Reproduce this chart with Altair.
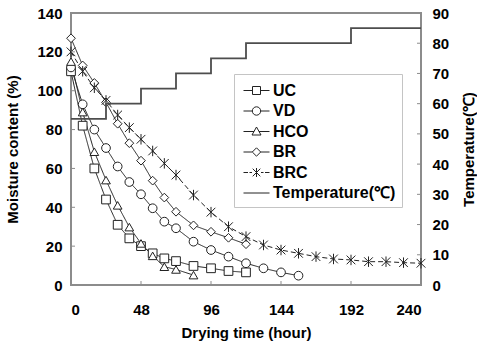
import altair as alt
import pandas as pd

# Moisture content (%) of each drying treatment versus drying time (hour)
uc_hours = [0, 8, 16, 24, 32, 40, 48, 56, 64, 72, 84, 96, 108, 120]
uc_moist = [110, 82, 60, 44, 31, 24, 20, 16.3, 13.7, 12.3, 9.8, 8.6, 7.2, 6.5]

vd_hours = [0, 8, 16, 24, 32, 40, 48, 56, 64, 72, 84, 96, 108, 120, 132, 144, 156]
vd_moist = [112, 93, 80, 70.5, 61, 53, 46.7, 39.5, 32.6, 29.2, 22.3, 18, 14.6, 11.2, 8.6, 6.5, 4.8]

hco_hours = [0, 8, 16, 24, 32, 40, 48, 56, 64, 72, 84]
hco_moist = [115, 89, 68.6, 54, 41, 29.8, 21.4, 15, 9.4, 8, 5.1]

br_hours = [0, 8, 16, 24, 32, 40, 48, 56, 64, 72, 84, 96, 108, 120]
br_moist = [127, 113, 104, 94, 83, 73, 64, 53.7, 45, 37.7, 30.7, 27.4, 24.3, 21]

brc_hours = [0, 8, 16, 24, 32, 40, 48, 56, 64, 72, 84, 96, 108, 120,
             132, 144, 156, 168, 180, 192, 204, 216, 228, 240]
brc_moist = [120, 110, 101.5, 95, 87.5, 81, 75, 69, 62.6, 56.6, 46.3, 37.5, 30, 24.9,
             20.6, 18, 16.3, 14.6, 13.4, 12.9, 12, 12, 11.5, 11.2]

# Drying air temperature schedule (step changes)
temp_hours = [0, 24, 48, 72, 96, 120, 192, 240]
temp_values = [55, 60, 65, 70, 75, 80, 85, 85]

series_names = ["UC", "VD", "HCO", "BR", "BRC"]
temp_label = "Temperature(℃)"

hour_ticks = [0, 48, 96, 144, 192, 240]
moist_ticks = [0, 20, 40, 60, 80, 100, 120, 140]
temp_ticks = [0, 10, 20, 30, 40, 50, 60, 70, 80, 90]

FONT = "Liberation Sans"

rows = []
for name, hrs, vals in zip(series_names,
                           [uc_hours, vd_hours, hco_hours, br_hours, brc_hours],
                           [uc_moist, vd_moist, hco_moist, br_moist, brc_moist]):
    rows += [{"series": name, "hour": h, "moisture": v} for h, v in zip(hrs, vals)]
moist_df = pd.DataFrame(rows)
temp_df = pd.DataFrame({"hour": temp_hours, "temp": temp_values})
legend_df = pd.DataFrame({"entry": series_names + [temp_label]})

x_enc = alt.X(
    "hour:Q",
    scale=alt.Scale(domain=[0, 240], nice=False),
    axis=alt.Axis(values=hour_ticks, title="Drying time (hour)", ticks=False,
                  domain=False, grid=False, labelPadding=17, titlePadding=8),
)
y_left = alt.Y(
    "moisture:Q",
    scale=alt.Scale(domain=[0, 140], nice=False),
    axis=alt.Axis(values=moist_ticks, title="Moisture content (%)", ticks=False,
                  domain=False, grid=False, labelPadding=9, titlePadding=16),
)
y_right = alt.Y(
    "temp:Q",
    scale=alt.Scale(domain=[0, 90], nice=False),
    axis=alt.Axis(values=temp_ticks, title=temp_label, orient="right", ticks=False,
                  domain=False, grid=False, labelPadding=11, titlePadding=13,
                  titleAngle=270, titleBaseline="top"),
)

point_shapes = ["square", "circle", "triangle-up", "diamond",
                "M-1,-1L1,1M-1,1L1,-1M0,-1.2V1.2"]

legend_shapes = [
    "M-1.3,0H-0.4M0.4,0H1.3M-0.4,-0.4H0.4V0.4H-0.4Z",
    "M-1.3,0H-0.42M0.42,0H1.3M-0.42,0A0.42,0.42,0,1,0,0.42,0A0.42,0.42,0,1,0,-0.42,0Z",
    "M-1.3,0H-0.25M0.25,0H1.3M0,-0.45L0.45,0.35H-0.45Z",
    "M-1.3,0H-0.42M0.42,0H1.3M0,-0.42L0.42,0L0,0.42L-0.42,0Z",
    "M-1.3,0H-0.85M-0.7,0H-0.45M0.45,0H0.7M0.85,0H1.3"
    "M-0.38,-0.38L0.38,0.38M-0.38,0.38L0.38,-0.38M0,-0.45V0.45",
    "M-1.3,0H1.3",
]

lines = alt.Chart(moist_df).mark_line(color="#222", strokeWidth=1).encode(
    x=x_enc, y=y_left,
    detail="series:N",
    strokeDash=alt.StrokeDash(
        "series:N",
        scale=alt.Scale(domain=series_names,
                        range=[[1, 0], [1, 0], [1, 0], [1, 0], [5, 3]]),
        legend=None),
)

points = alt.Chart(moist_df).mark_point(
    filled=True, fill="white", stroke="#222", strokeWidth=1, size=76, opacity=1
).encode(
    x=x_enc, y=y_left,
    shape=alt.Shape("series:N",
                    scale=alt.Scale(domain=series_names, range=point_shapes),
                    legend=None),
)

legend_layer = alt.Chart(legend_df).mark_point(opacity=0).encode(
    shape=alt.Shape(
        "entry:N",
        scale=alt.Scale(domain=series_names + [temp_label], range=legend_shapes),
        legend=alt.Legend(
            title=None, orient="none", legendX=163, legendY=61,
            symbolSize=400, symbolStrokeWidth=1, symbolStrokeColor="#222",
            symbolFillColor="white", symbolOpacity=1, symbolOffset=6,
            labelFont=FONT, labelFontSize=16, labelFontWeight="bold",
            labelColor="black", labelOffset=6, rowPadding=1.5,
            padding=6, fillColor="white", strokeColor="#c4c4c4",
        ),
    )
)

left_ticks = alt.Chart(pd.DataFrame({"moisture": moist_ticks})).mark_rule(
    color="#8c8c8c", strokeWidth=1
).encode(y=y_left, x=alt.value(0), x2=alt.value(4))

bottom_ticks = alt.Chart(pd.DataFrame({"hour": hour_ticks})).mark_rule(
    color="#8c8c8c", strokeWidth=1
).encode(x=x_enc, y=alt.value(272), y2=alt.value(268))

temp_line = alt.Chart(temp_df).mark_line(
    interpolate="step-after", color="#4d4d4d", strokeWidth=1.8
).encode(x=x_enc, y=y_right)

right_ticks = alt.Chart(pd.DataFrame({"temp": temp_ticks})).mark_rule(
    color="#8c8c8c", strokeWidth=1
).encode(y=y_right, x=alt.value(350), x2=alt.value(346))

left_group = alt.layer(lines, points, legend_layer, left_ticks, bottom_ticks).resolve_scale(
    shape="independent", strokeDash="independent"
).resolve_legend(shape="independent")
right_group = alt.layer(temp_line, right_ticks)

chart = alt.layer(left_group, right_group).resolve_scale(y="independent").properties(
    width=350, height=272,
    background="white",
    autosize=alt.AutoSizeParams(type="none"),
    padding={"left": 71, "top": 13, "right": 56, "bottom": 58},
).configure_view(
    stroke="#8c8c8c", strokeWidth=2
).configure_axis(
    labelFont=FONT, labelFontSize=15, labelFontWeight="bold", labelColor="black",
    titleFont=FONT, titleFontSize=15, titleFontWeight="bold", titleColor="black",
)

chart.save("out.html", embed_options={"renderer": "svg", "actions": False})
